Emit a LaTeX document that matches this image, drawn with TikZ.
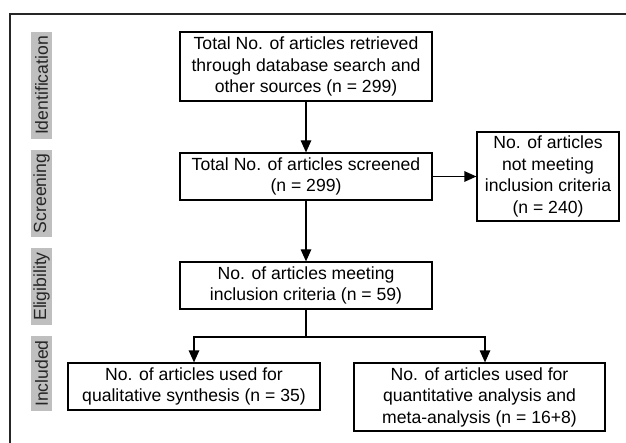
\documentclass[tikz,border=0pt]{standalone}
\usepackage{fontspec}
\setmainfont{Liberation Sans}
\usetikzlibrary{arrows.meta}
\begin{document}
\begin{tikzpicture}[x=1pt,y=-1pt,
  box/.style={draw=black,line width=1.2pt,rectangle,align=center,inner sep=0pt,
    font=\fontsize{17.6}{21.5}\selectfont},
  phase/.style={fill=black!25,rotate=90,inner sep=0pt,minimum height=21pt,
    font=\fontsize{17.6}{20}\selectfont,text=black!85},
  arr/.style={line width=1.2pt,-{Triangle[length=12pt,width=10.5pt]}}]
\useasboundingbox (0,0) rectangle (626,443);
\draw[line width=1.2pt,black!85] (626,14) -- (10,14) -- (10,443);
\node[phase,minimum width=107pt] (p1) at (41.5,85.5) {Identification};
\node[phase,minimum width=87pt] (p2) at (41.5,193.5) {Screening};
\node[phase,minimum width=77pt] (p3) at (41.5,286.5) {Eligibility};
\node[phase,minimum width=75pt] (p4) at (41.5,373.5) {Included};
\node[box,minimum width=252pt,minimum height=69pt] (b1) at (306,66.5)
  {Total No. of articles retrieved\\through database search and\\other sources (n = 299)};
\node[box,minimum width=252pt,minimum height=47pt] (b2) at (306,176.5)
  {Total No. of articles screened\\(n = 299)};
\node[box,minimum width=142pt,minimum height=89pt] (b3) at (548,176.5)
  {No. of articles\\not meeting\\inclusion criteria\\(n = 240)};
\node[box,minimum width=252pt,minimum height=47pt] (b4) at (306,285.5)
  {No. of articles meeting\\inclusion criteria (n = 59)};
\node[box,minimum width=252pt,minimum height=47pt] (b5) at (194,386.5)
  {No. of articles used for\\qualitative synthesis (n = 35)};
\node[box,minimum width=251pt,minimum height=68pt] (b6) at (479.5,397)
  {No. of articles used for\\quantitative analysis and\\meta-analysis (n = 16+8)};
\coordinate (split) at (306,337);
\draw[arr] (b1) -- (b2);
\draw[arr] (b2.east) -- (b3.west);
\draw[arr] (b2) -- (b4);
\draw[line width=1.2pt] (b4.south) -- (split);
\draw[arr] (split) -| (b5.north);
\draw[arr] (split) -| ([xshift=5.5pt]b6.north);
\end{tikzpicture}
\end{document}
